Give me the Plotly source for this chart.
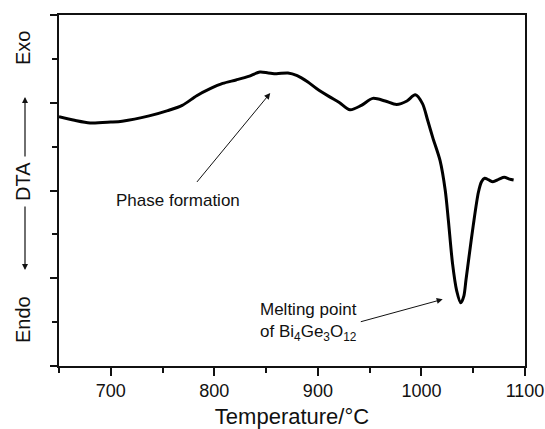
import plotly.graph_objects as go

# DTA curve (temperature in °C, signal in arbitrary units)
temperature = [650, 665, 680, 700, 711, 737, 755, 769, 783, 796, 808, 821, 833, 844, 852, 860,
               871, 880, 890, 899, 911, 921, 931, 942, 953, 965, 976, 986, 994, 1001, 1006,
               1011, 1018, 1023, 1026, 1030, 1034, 1038, 1041, 1043, 1046, 1050, 1055, 1058,
               1061, 1065, 1069, 1075, 1080, 1085, 1089]
dta = [2.84, 2.80, 2.77, 2.78, 2.79, 2.85, 2.91, 2.97, 3.08, 3.16, 3.22, 3.26, 3.30, 3.35, 3.34, 3.33,
       3.34, 3.31, 3.24, 3.16, 3.07, 3.00, 2.92, 2.97, 3.05, 3.02, 2.98, 3.02, 3.09, 2.99, 2.80,
       2.60, 2.34, 2.00, 1.66, 1.17, 0.86, 0.72, 0.80, 0.98, 1.25, 1.60, 1.98, 2.10,
       2.14, 2.12, 2.10, 2.13, 2.15, 2.13, 2.12]

x_range = [650, 1100]
x_major = [700, 800, 900, 1000, 1100]
y_range = [0, 4]

FONT = "Arial, Liberation Sans, Helvetica, sans-serif"
INK = "#111111"

fig = go.Figure()
fig.add_trace(go.Scatter(
    x=temperature, y=dta, mode="lines",
    line=dict(color="black", width=3, shape="spline", smoothing=0.8),
    showlegend=False, hoverinfo="skip",
))

fig.update_layout(
    width=545, height=429,
    margin=dict(l=59, r=20, t=15, b=63, autoexpand=False),
    paper_bgcolor="white", plot_bgcolor="white",
    font=dict(family=FONT, color=INK),
    xaxis=dict(
        range=x_range, tickvals=x_major, ticks="outside", ticklen=8, tickwidth=1.5,
        tickcolor=INK, showline=True, linecolor=INK, linewidth=1.6, mirror=True,
        showgrid=False, zeroline=False, automargin=False,
        tickfont=dict(size=18, family=FONT, color=INK),
        minor=dict(dtick=50, tick0=650, ticks="outside", ticklen=5, tickwidth=1.5, tickcolor=INK),
        title=dict(text="Temperature/°C", font=dict(size=22, family=FONT, color=INK), standoff=18),
    ),
    yaxis=dict(
        range=y_range, tickvals=[0, 1, 2, 3, 4], ticks="outside", ticklen=7, tickwidth=1.5,
        tickcolor=INK, showline=True, linecolor=INK, linewidth=1.6, mirror=True,
        showgrid=False, zeroline=False, showticklabels=False, automargin=False,
        minor=dict(dtick=1, tick0=0.5, ticks="outside", ticklen=5, tickwidth=1.5, tickcolor=INK),
    ),
)

# Y-axis label: Endo <-- DTA --> Exo
def px_x(px):
    return (px - 59) / 466.0

def px_y(py):
    return (366 - py) / 351.0

for txt, py in [("Exo", 48), ("DTA", 182), ("Endo", 320)]:
    fig.add_annotation(xref="paper", yref="paper", x=px_x(23), y=px_y(py), text=txt,
                       textangle=-90, showarrow=False, xanchor="center", yanchor="middle",
                       font=dict(size=20, family=FONT, color=INK))

fig.add_annotation(xref="paper", yref="paper", x=px_x(25), y=px_y(97), text="",
                   showarrow=True, ax=0, ay=61, arrowhead=2, arrowsize=1, arrowwidth=1.2,
                   arrowcolor=INK)
fig.add_annotation(xref="paper", yref="paper", x=px_x(25), y=px_y(270), text="",
                   showarrow=True, ax=0, ay=-65, arrowhead=2, arrowsize=1, arrowwidth=1.2,
                   arrowcolor=INK)

# Phase formation
fig.add_annotation(x=854, y=3.11, ax=782, ay=2.08, axref="x", ayref="y", text="",
                   showarrow=True, arrowhead=2, arrowsize=1.2, arrowwidth=1, arrowcolor=INK)
fig.add_annotation(x=764.5, y=1.886, text="Phase formation", showarrow=False,
                   xanchor="center", yanchor="middle", font=dict(size=17, family=FONT, color=INK))

# Melting point
fig.add_annotation(x=1020.5, y=0.76, ax=940, ay=0.50, axref="x", ayref="y", text="",
                   showarrow=True, arrowhead=2, arrowsize=1.2, arrowwidth=1, arrowcolor=INK)
fig.add_annotation(x=842, y=0.50, text="Melting point<br>of Bi<sub>4</sub>Ge<sub>3</sub>O<sub>12</sub>",
                   showarrow=False, xanchor="left", yanchor="middle", align="left",
                   font=dict(size=17, family=FONT, color=INK))

fig.write_html("out.html")
